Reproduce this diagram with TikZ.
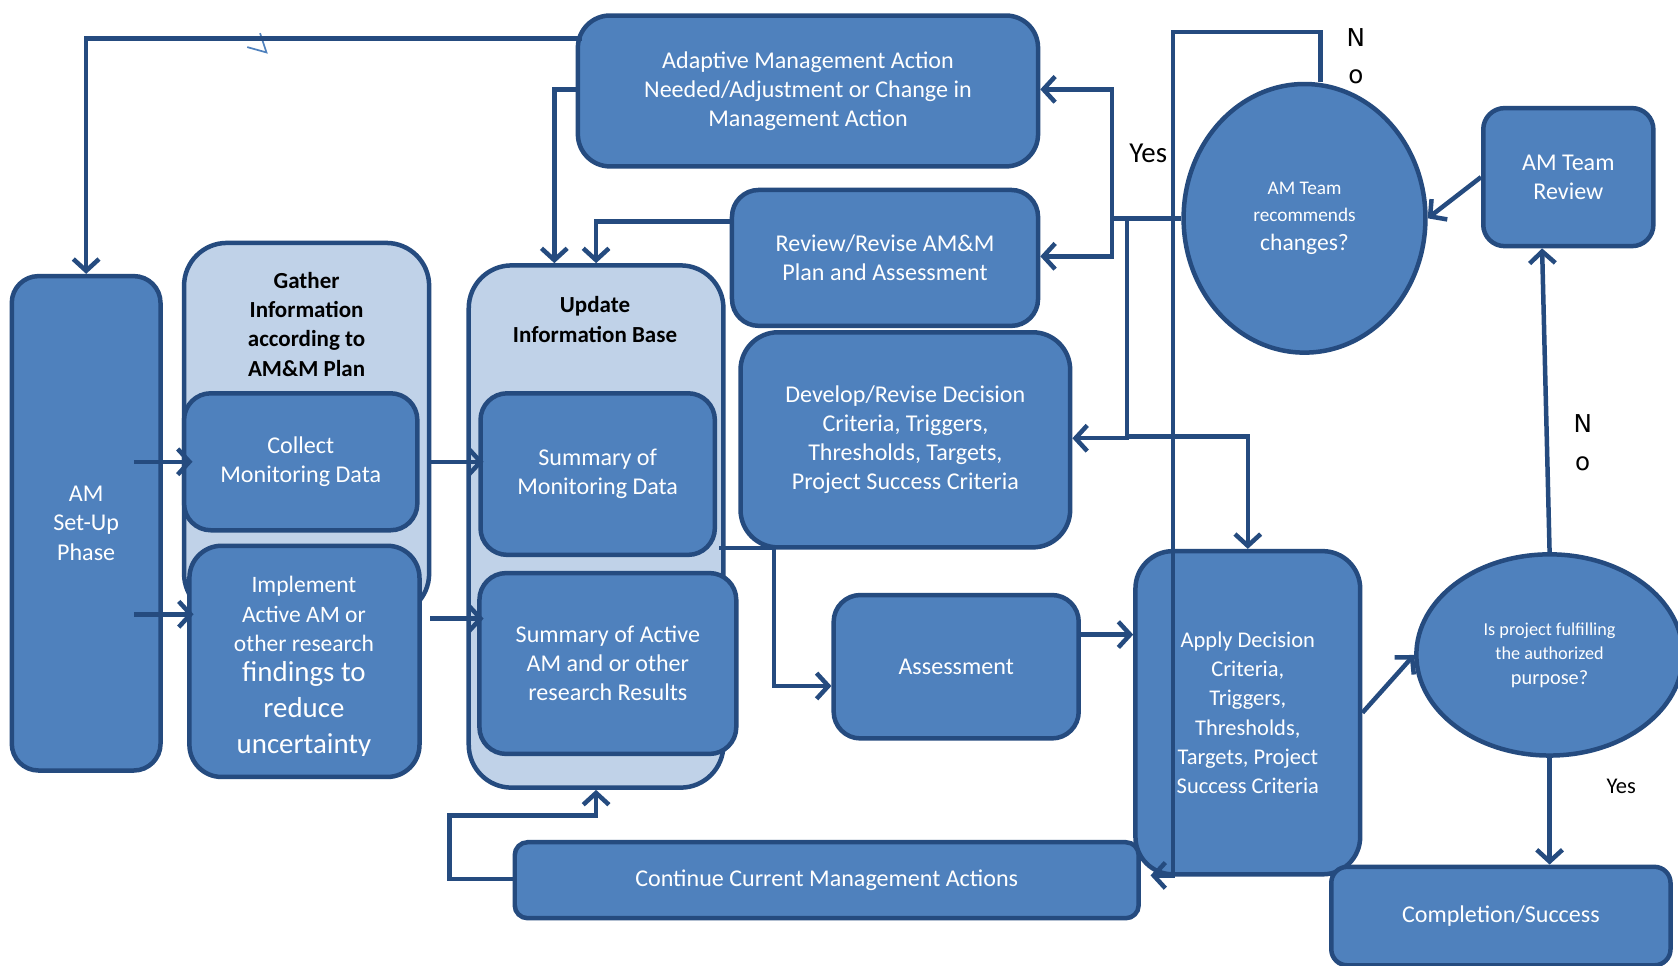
\documentclass[tikz,border=0pt]{standalone}
\usepackage{fontspec}
\setmainfont{Carlito}
\newfontfamily\dvs{DejaVu Sans}
\usetikzlibrary{arrows.meta,shapes.geometric}
\definecolor{bf}{HTML}{4F81BD}
\definecolor{lc}{HTML}{254B7F}
\definecolor{cf}{HTML}{C0D2E8}
\begin{document}
\begin{tikzpicture}[x=1pt,y=-1pt,
 bx/.style={draw=lc, fill=bf, line width=4.2pt, text=white, align=center, inner sep=0pt, font=\fontsize{22.5}{27.3}\selectfont},
 ctr/.style={draw=lc, fill=cf, line width=4.2pt, inner sep=0pt},
 ttl/.style={text=black, align=center, inner sep=0pt, font=\bfseries\fontsize{21.5}{27.3}\selectfont},
 wtxt/.style={text=white, align=center, inner sep=0pt},
 ln/.style={draw=lc, line width=4.2pt},
 arr/.style={ln, -{Straight Barb[length=11pt,width=24pt]}},
 lbl/.style={text=black, inner sep=0pt},
 straymk/.style={draw=bf, line width=1.6pt}]
\useasboundingbox (0,0) rectangle (1568,902);
\fill[white] (0,0) rectangle (1568,902);

% containers
\node[ctr, rounded corners=40pt, minimum width=229pt, minimum height=349pt] (gather) at (286.5,401.5) {};
\node[ttl] (gtitle) at (286.5,303) {Gather\\Information\\according to\\AM\&M Plan};
\node[ctr, rounded corners=40pt, minimum width=238pt, minimum height=488pt] (update) at (557,492) {};
\node[ttl] (utitle) at (556,298.5) {Update\\Information Base};

% boxes
\node[bx, rounded corners=30pt, minimum width=430pt, minimum height=141pt] (adapt) at (755,85) {Adaptive Management Action\\Needed/Adjustment or Change in\\Management Action};
\coordinate (adw) at (540,83.5);
\node[bx, rounded corners=25pt, minimum width=286pt, minimum height=127pt] (review) at (827,241) {Review/Revise AM\&M\\Plan and Assessment};
\node[bx, rounded corners=35pt, minimum width=308pt, minimum height=201pt] (develop) at (846,411) {Develop/Revise Decision\\Criteria, Triggers,\\Thresholds, Targets,\\Project Success Criteria};
\node[bx, rounded corners=25pt, minimum width=139pt, minimum height=462pt] (setup) at (80.5,489) {AM\\Set-Up\\Phase};
\node[bx, rounded corners=25pt, minimum width=218pt, minimum height=128pt] (collect) at (281,431.5) {Collect\\Monitoring Data};
\node[bx, rounded corners=30pt, minimum width=215pt, minimum height=216pt] (implement) at (284.5,618) {};
\node[wtxt, font=\fontsize{22}{27.5}\selectfont] (impl1) at (284,574) {Implement\\Active AM or\\other research};
\begin{scope}
\clip (180,600) rectangle (390,706);
\node[wtxt, font=\fontsize{27}{33.5}\selectfont] (impl2) at (284,663.5) {findings to\\reduce\\uncertainty};
\end{scope}
\node[bx, rounded corners=25pt, minimum width=219pt, minimum height=151pt] (summon) at (558.5,443) {Summary of\\Monitoring Data};
\node[bx, rounded corners=25pt, minimum width=240pt, minimum height=169pt] (sumact) at (568,620) {Summary of Active\\AM and or other\\research Results};
\node[bx, rounded corners=25pt, minimum width=229pt, minimum height=134pt] (assess) at (893.5,623) {Assessment};
\node[bx, rounded corners=35pt, minimum width=210pt, minimum height=302pt, font=\fontsize{21}{27.3}\selectfont] (apply) at (1166,666) {Apply Decision\\Criteria,\\Triggers,\\Thresholds,\\Targets, Project\\Success Criteria};
\node[bx, rounded corners=12pt, minimum width=583pt, minimum height=71pt] (cont) at (772.5,822.5) {Continue Current Management Actions};
\node[bx, ellipse, minimum width=226pt, minimum height=251pt, font=\fontsize{18}{25}\selectfont] (amteam) at (1219,204) {AM Team\\recommends\\[2pt]{\fontsize{22}{27}\selectfont changes?}};
\node[bx, rounded corners=20pt, minimum width=159pt, minimum height=129pt] (review2) at (1465.5,165.5) {AM Team\\Review};
\node[bx, ellipse, minimum width=249pt, minimum height=188pt, font=\fontsize{17}{22.5}\selectfont] (isproj) at (1448,612) {Is project fulfilling\\the authorized\\[1pt]{\fontsize{19}{24}\selectfont purpose?}};
\node[bx, rounded corners=15pt, minimum width=317pt, minimum height=92pt] (complete) at (1402.5,856) {Completion/Success};

% labels
\node[lbl, font=\dvs\fontsize{23}{27}\selectfont] (no1n) at (1267,35) {N};
\node[lbl, font=\dvs\fontsize{23}{27}\selectfont] (no1o) at (1267,72) {o};
\node[lbl, font=\fontsize{27}{30}\selectfont] (yes1) at (1073,143) {Yes};
\node[lbl, font=\dvs\fontsize{23}{27}\selectfont] (no2n) at (1479,396) {N};
\node[lbl, font=\dvs\fontsize{23}{27}\selectfont] (no2o) at (1479,433) {o};
\node[lbl, font=\fontsize{21}{25}\selectfont] (yes2) at (1515,735) {Yes};

% stray mark
\draw[straymk] (243,31) -- (249,49) -- (231,44);

% connectors
\draw[arr] ([xshift=6pt]adapt.west |- 0,36) -| (setup.north);
\draw[arr] (adapt.west |- adw) -| ([xshift=-39pt]update.north);
\draw[arr] ([yshift=34pt]review.west) -| (update.north);
\draw[arr] ([xshift=-27pt]setup.east |- collect.west) -- ([xshift=10pt]collect.west);
\coordinate (e1) at ([yshift=44pt]implement.west);
\draw[arr] ([xshift=-27pt]setup.east |- e1) -- ([xshift=6pt]e1);
\draw[arr] ([xshift=8pt]collect.east) -- ([xshift=5pt]collect.east -| summon.west);
\coordinate (g1) at ([yshift=40pt]implement.east);
\draw[arr] ([xshift=8pt]g1) -- ([xshift=6pt]g1 -| sumact.west);
\draw[arr] ([xshift=-6pt]update.east |- 0,512) -- ++(51,0) |- ([yshift=-18pt]assess.west);
\draw[arr] ([yshift=30pt]assess.east) -- ([yshift=30pt]assess.east -| apply.west);
\draw[arr] (apply.east) -- (isproj.west);
\draw[arr] (isproj.north) -- ([xshift=-24.5pt]review2.south);
\draw[arr] (isproj.south) -- (isproj.south |- complete.north);
\draw[arr] (review2.west) -- (amteam.east);
\coordinate (j1) at ([xshift=-65pt]amteam.west);
\coordinate (j2) at ([xshift=-51pt]amteam.west);
\draw[ln] (amteam.west) -- (j1);
\draw[arr] (j1) |- (adapt.east |- adw);
\draw[arr] (j1) |- ([yshift=1.5pt]review.east);
\draw[arr] (j2) |- ([yshift=1.5pt]develop.east);
\draw[arr] (j2 |- 0,408) -| (apply.north);
\coordinate (nl) at (1096,30);
\coordinate (nb) at (1096,818);
\draw[arr] ([xshift=15pt]amteam.north) |- (nl) -- (nb) -- ([xshift=9pt]nb -| cont.east);
\draw[arr] ([yshift=1pt]cont.west) -- ++(-59,0) |- ([yshift=-24pt]update.south) -- (update.south);
\end{tikzpicture}
\end{document}
